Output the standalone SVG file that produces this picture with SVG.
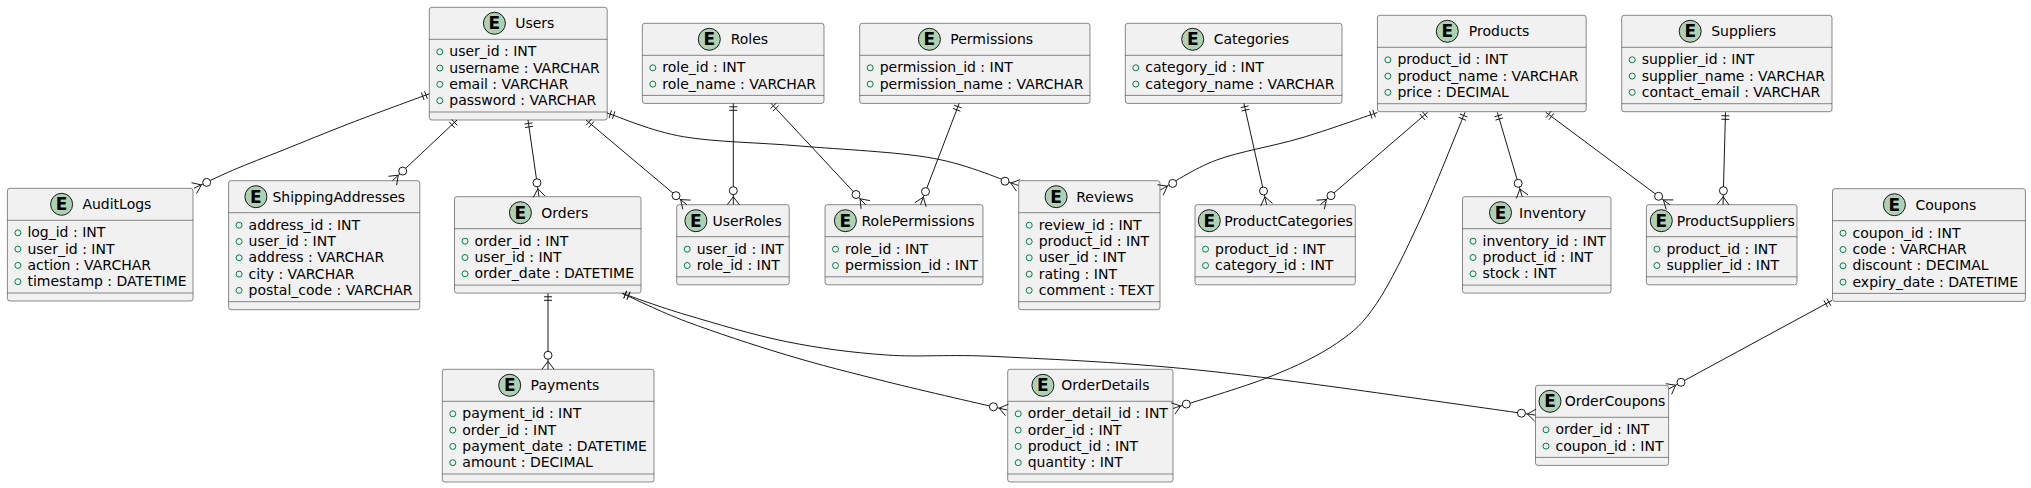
<svg xmlns="http://www.w3.org/2000/svg" width="2031" height="488" viewBox="0 0 2031 488">
<style>
.box{fill:#F1F1F1;stroke:#181818;stroke-width:0.5}
.sep{stroke:#181818;stroke-width:0.5}
.spot{fill:#ADD1B2;stroke:#181818;stroke-width:1}
.E{font-family:"DejaVu Sans",sans-serif;font-size:17px;font-weight:bold;text-anchor:middle;fill:#000}
.t{font-family:"DejaVu Sans",sans-serif;font-size:14px;fill:#000}
.a{font-family:"DejaVu Sans",sans-serif;font-size:14px;fill:#000}
.v{fill:none;stroke:#038048;stroke-width:1}
.edge{fill:none;stroke:#181818;stroke-width:1}
.mk{stroke:#181818;stroke-width:1}
.oc{fill:#FFFFFF;stroke:#181818;stroke-width:1}
</style>
<rect width="2031" height="488" fill="#FFFFFF"/>

<g id="Users">
<rect class="box" x="429.3" y="7.3" width="177.9" height="112.7" rx="2.5"/>
<line class="sep" x1="429.3" y1="39.3" x2="607.2" y2="39.3"/><line class="sep" x1="429.3" y1="112" x2="607.2" y2="112"/>
<circle class="spot" cx="494.4" cy="23.3" r="11"/><text class="E" x="494.4" y="29.3">E</text>
<text class="t" x="515.2" y="28.3">Users</text>
<circle class="v" cx="439.8" cy="51.8" r="3"/><text class="a" x="449.3" y="56.3">user_id : INT</text>
<circle class="v" cx="439.8" cy="68.1" r="3"/><text class="a" x="449.3" y="72.6">username : VARCHAR</text>
<circle class="v" cx="439.8" cy="84.4" r="3"/><text class="a" x="449.3" y="88.9">email : VARCHAR</text>
<circle class="v" cx="439.8" cy="100.7" r="3"/><text class="a" x="449.3" y="105.2">password : VARCHAR</text>
</g>

<g id="Roles">
<rect class="box" x="642.3" y="23.3" width="181.7" height="80.1" rx="2.5"/>
<line class="sep" x1="642.3" y1="55.3" x2="824" y2="55.3"/><line class="sep" x1="642.3" y1="95.4" x2="824" y2="95.4"/>
<circle class="spot" cx="709.3" cy="39.3" r="11"/><text class="E" x="709.3" y="45.3">E</text>
<text class="t" x="730.7" y="44.3">Roles</text>
<circle class="v" cx="652.8" cy="67.8" r="3"/><text class="a" x="662.3" y="72.3">role_id : INT</text>
<circle class="v" cx="652.8" cy="84.1" r="3"/><text class="a" x="662.3" y="88.6">role_name : VARCHAR</text>
</g>

<g id="Permissions">
<rect class="box" x="859.7" y="23.3" width="230.3" height="80.1" rx="2.5"/>
<line class="sep" x1="859.7" y1="55.3" x2="1090" y2="55.3"/><line class="sep" x1="859.7" y1="95.4" x2="1090" y2="95.4"/>
<circle class="spot" cx="929.4" cy="39.3" r="11"/><text class="E" x="929.4" y="45.3">E</text>
<text class="t" x="950.3" y="44.3">Permissions</text>
<circle class="v" cx="870.2" cy="67.8" r="3"/><text class="a" x="879.7" y="72.3">permission_id : INT</text>
<circle class="v" cx="870.2" cy="84.1" r="3"/><text class="a" x="879.7" y="88.6">permission_name : VARCHAR</text>
</g>

<g id="Categories">
<rect class="box" x="1125.3" y="23.3" width="216.7" height="80.1" rx="2.5"/>
<line class="sep" x1="1125.3" y1="55.3" x2="1342" y2="55.3"/><line class="sep" x1="1125.3" y1="95.4" x2="1342" y2="95.4"/>
<circle class="spot" cx="1192.7" cy="39.3" r="11"/><text class="E" x="1192.7" y="45.3">E</text>
<text class="t" x="1213.7" y="44.3">Categories</text>
<circle class="v" cx="1135.8" cy="67.8" r="3"/><text class="a" x="1145.3" y="72.3">category_id : INT</text>
<circle class="v" cx="1135.8" cy="84.1" r="3"/><text class="a" x="1145.3" y="88.6">category_name : VARCHAR</text>
</g>

<g id="Products">
<rect class="box" x="1377.4" y="15.3" width="208.8" height="96.4" rx="2.5"/>
<line class="sep" x1="1377.4" y1="47.3" x2="1586.2" y2="47.3"/><line class="sep" x1="1377.4" y1="103.7" x2="1586.2" y2="103.7"/>
<circle class="spot" cx="1447.3" cy="31.3" r="11"/><text class="E" x="1447.3" y="37.3">E</text>
<text class="t" x="1468.8" y="36.3">Products</text>
<circle class="v" cx="1387.9" cy="59.8" r="3"/><text class="a" x="1397.4" y="64.3">product_id : INT</text>
<circle class="v" cx="1387.9" cy="76.1" r="3"/><text class="a" x="1397.4" y="80.6">product_name : VARCHAR</text>
<circle class="v" cx="1387.9" cy="92.4" r="3"/><text class="a" x="1397.4" y="96.9">price : DECIMAL</text>
</g>

<g id="Suppliers">
<rect class="box" x="1621.7" y="15.3" width="210.3" height="96.4" rx="2.5"/>
<line class="sep" x1="1621.7" y1="47.3" x2="1832" y2="47.3"/><line class="sep" x1="1621.7" y1="103.7" x2="1832" y2="103.7"/>
<circle class="spot" cx="1690.2" cy="31.3" r="11"/><text class="E" x="1690.2" y="37.3">E</text>
<text class="t" x="1711.2" y="36.3">Suppliers</text>
<circle class="v" cx="1632.2" cy="59.8" r="3"/><text class="a" x="1641.7" y="64.3">supplier_id : INT</text>
<circle class="v" cx="1632.2" cy="76.1" r="3"/><text class="a" x="1641.7" y="80.6">supplier_name : VARCHAR</text>
<circle class="v" cx="1632.2" cy="92.4" r="3"/><text class="a" x="1641.7" y="96.9">contact_email : VARCHAR</text>
</g>

<g id="AuditLogs">
<rect class="box" x="7.4" y="188.3" width="185.6" height="112.7" rx="2.5"/>
<line class="sep" x1="7.4" y1="220.3" x2="193" y2="220.3"/><line class="sep" x1="7.4" y1="293" x2="193" y2="293"/>
<circle class="spot" cx="61.6" cy="204.3" r="11"/><text class="E" x="61.6" y="210.3">E</text>
<text class="t" x="82.4" y="209.3">AuditLogs</text>
<circle class="v" cx="17.9" cy="232.8" r="3"/><text class="a" x="27.4" y="237.3">log_id : INT</text>
<circle class="v" cx="17.9" cy="249.1" r="3"/><text class="a" x="27.4" y="253.6">user_id : INT</text>
<circle class="v" cx="17.9" cy="265.4" r="3"/><text class="a" x="27.4" y="269.9">action : VARCHAR</text>
<circle class="v" cx="17.9" cy="281.7" r="3"/><text class="a" x="27.4" y="286.2">timestamp : DATETIME</text>
</g>

<g id="ShippingAddresses">
<rect class="box" x="228.6" y="180.7" width="191.2" height="129" rx="2.5"/>
<line class="sep" x1="228.6" y1="212.7" x2="419.8" y2="212.7"/><line class="sep" x1="228.6" y1="301.7" x2="419.8" y2="301.7"/>
<circle class="spot" cx="255.9" cy="196.7" r="11"/><text class="E" x="255.9" y="202.7">E</text>
<text class="t" x="272.4" y="201.7">ShippingAddresses</text>
<circle class="v" cx="239.1" cy="225.2" r="3"/><text class="a" x="248.6" y="229.7">address_id : INT</text>
<circle class="v" cx="239.1" cy="241.5" r="3"/><text class="a" x="248.6" y="246">user_id : INT</text>
<circle class="v" cx="239.1" cy="257.8" r="3"/><text class="a" x="248.6" y="262.3">address : VARCHAR</text>
<circle class="v" cx="239.1" cy="274.1" r="3"/><text class="a" x="248.6" y="278.6">city : VARCHAR</text>
<circle class="v" cx="239.1" cy="290.4" r="3"/><text class="a" x="248.6" y="294.9">postal_code : VARCHAR</text>
</g>

<g id="Orders">
<rect class="box" x="454.5" y="196.7" width="186.5" height="96.4" rx="2.5"/>
<line class="sep" x1="454.5" y1="228.7" x2="641" y2="228.7"/><line class="sep" x1="454.5" y1="285.1" x2="641" y2="285.1"/>
<circle class="spot" cx="520.4" cy="212.7" r="11"/><text class="E" x="520.4" y="218.7">E</text>
<text class="t" x="541.3" y="217.7">Orders</text>
<circle class="v" cx="465" cy="241.2" r="3"/><text class="a" x="474.5" y="245.7">order_id : INT</text>
<circle class="v" cx="465" cy="257.5" r="3"/><text class="a" x="474.5" y="262">user_id : INT</text>
<circle class="v" cx="465" cy="273.8" r="3"/><text class="a" x="474.5" y="278.3">order_date : DATETIME</text>
</g>

<g id="UserRoles">
<rect class="box" x="676.7" y="204.7" width="112.5" height="80.1" rx="2.5"/>
<line class="sep" x1="676.7" y1="236.7" x2="789.2" y2="236.7"/><line class="sep" x1="676.7" y1="276.8" x2="789.2" y2="276.8"/>
<circle class="spot" cx="695.9" cy="220.7" r="11"/><text class="E" x="695.9" y="226.7">E</text>
<text class="t" x="712.4" y="225.7">UserRoles</text>
<circle class="v" cx="687.2" cy="249.2" r="3"/><text class="a" x="696.7" y="253.7">user_id : INT</text>
<circle class="v" cx="687.2" cy="265.5" r="3"/><text class="a" x="696.7" y="270">role_id : INT</text>
</g>

<g id="RolePermissions">
<rect class="box" x="825" y="204.7" width="158" height="80.1" rx="2.5"/>
<line class="sep" x1="825" y1="236.7" x2="983" y2="236.7"/><line class="sep" x1="825" y1="276.8" x2="983" y2="276.8"/>
<circle class="spot" cx="845.4" cy="220.7" r="11"/><text class="E" x="845.4" y="226.7">E</text>
<text class="t" x="861.5" y="225.7">RolePermissions</text>
<circle class="v" cx="835.5" cy="249.2" r="3"/><text class="a" x="845" y="253.7">role_id : INT</text>
<circle class="v" cx="835.5" cy="265.5" r="3"/><text class="a" x="845" y="270">permission_id : INT</text>
</g>

<g id="Reviews">
<rect class="box" x="1018.7" y="180.7" width="141.3" height="129" rx="2.5"/>
<line class="sep" x1="1018.7" y1="212.7" x2="1160" y2="212.7"/><line class="sep" x1="1018.7" y1="301.7" x2="1160" y2="301.7"/>
<circle class="spot" cx="1056.1" cy="196.7" r="11"/><text class="E" x="1056.1" y="202.7">E</text>
<text class="t" x="1076.2" y="201.7">Reviews</text>
<circle class="v" cx="1029.2" cy="225.2" r="3"/><text class="a" x="1038.7" y="229.7">review_id : INT</text>
<circle class="v" cx="1029.2" cy="241.5" r="3"/><text class="a" x="1038.7" y="246">product_id : INT</text>
<circle class="v" cx="1029.2" cy="257.8" r="3"/><text class="a" x="1038.7" y="262.3">user_id : INT</text>
<circle class="v" cx="1029.2" cy="274.1" r="3"/><text class="a" x="1038.7" y="278.6">rating : INT</text>
<circle class="v" cx="1029.2" cy="290.4" r="3"/><text class="a" x="1038.7" y="294.9">comment : TEXT</text>
</g>

<g id="ProductCategories">
<rect class="box" x="1195" y="204.7" width="160.3" height="80.1" rx="2.5"/>
<line class="sep" x1="1195" y1="236.7" x2="1355.3" y2="236.7"/><line class="sep" x1="1195" y1="276.8" x2="1355.3" y2="276.8"/>
<circle class="spot" cx="1209.3" cy="220.7" r="11"/><text class="E" x="1209.3" y="226.7">E</text>
<text class="t" x="1224.3" y="225.7">ProductCategories</text>
<circle class="v" cx="1205.5" cy="249.2" r="3"/><text class="a" x="1215" y="253.7">product_id : INT</text>
<circle class="v" cx="1205.5" cy="265.5" r="3"/><text class="a" x="1215" y="270">category_id : INT</text>
</g>

<g id="Inventory">
<rect class="box" x="1462.5" y="196.7" width="148.5" height="96.4" rx="2.5"/>
<line class="sep" x1="1462.5" y1="228.7" x2="1611" y2="228.7"/><line class="sep" x1="1462.5" y1="285.1" x2="1611" y2="285.1"/>
<circle class="spot" cx="1500.5" cy="212.7" r="11"/><text class="E" x="1500.5" y="218.7">E</text>
<text class="t" x="1519.1" y="217.7">Inventory</text>
<circle class="v" cx="1473" cy="241.2" r="3"/><text class="a" x="1482.5" y="245.7">inventory_id : INT</text>
<circle class="v" cx="1473" cy="257.5" r="3"/><text class="a" x="1482.5" y="262">product_id : INT</text>
<circle class="v" cx="1473" cy="273.8" r="3"/><text class="a" x="1482.5" y="278.3">stock : INT</text>
</g>

<g id="ProductSuppliers">
<rect class="box" x="1646.4" y="204.7" width="150.6" height="80.1" rx="2.5"/>
<line class="sep" x1="1646.4" y1="236.7" x2="1797" y2="236.7"/><line class="sep" x1="1646.4" y1="276.8" x2="1797" y2="276.8"/>
<circle class="spot" cx="1661.3" cy="220.7" r="11"/><text class="E" x="1661.3" y="226.7">E</text>
<text class="t" x="1676.7" y="225.7">ProductSuppliers</text>
<circle class="v" cx="1656.9" cy="249.2" r="3"/><text class="a" x="1666.4" y="253.7">product_id : INT</text>
<circle class="v" cx="1656.9" cy="265.5" r="3"/><text class="a" x="1666.4" y="270">supplier_id : INT</text>
</g>

<g id="Coupons">
<rect class="box" x="1832.5" y="188.7" width="192.9" height="112.7" rx="2.5"/>
<line class="sep" x1="1832.5" y1="220.7" x2="2025.4" y2="220.7"/><line class="sep" x1="1832.5" y1="293.4" x2="2025.4" y2="293.4"/>
<circle class="spot" cx="1894.4" cy="204.7" r="11"/><text class="E" x="1894.4" y="210.7">E</text>
<text class="t" x="1915.4" y="209.7">Coupons</text>
<circle class="v" cx="1843" cy="233.2" r="3"/><text class="a" x="1852.5" y="237.7">coupon_id : INT</text>
<circle class="v" cx="1843" cy="249.5" r="3"/><text class="a" x="1852.5" y="254">code : VARCHAR</text>
<circle class="v" cx="1843" cy="265.8" r="3"/><text class="a" x="1852.5" y="270.3">discount : DECIMAL</text>
<circle class="v" cx="1843" cy="282.1" r="3"/><text class="a" x="1852.5" y="286.6">expiry_date : DATETIME</text>
</g>

<g id="Payments">
<rect class="box" x="442.3" y="369.3" width="211.7" height="112.7" rx="2.5"/>
<line class="sep" x1="442.3" y1="401.3" x2="654" y2="401.3"/><line class="sep" x1="442.3" y1="474" x2="654" y2="474"/>
<circle class="spot" cx="509.7" cy="385.3" r="11"/><text class="E" x="509.7" y="391.3">E</text>
<text class="t" x="530.6" y="390.3">Payments</text>
<circle class="v" cx="452.8" cy="413.8" r="3"/><text class="a" x="462.3" y="418.3">payment_id : INT</text>
<circle class="v" cx="452.8" cy="430.1" r="3"/><text class="a" x="462.3" y="434.6">order_id : INT</text>
<circle class="v" cx="452.8" cy="446.4" r="3"/><text class="a" x="462.3" y="450.9">payment_date : DATETIME</text>
<circle class="v" cx="452.8" cy="462.7" r="3"/><text class="a" x="462.3" y="467.2">amount : DECIMAL</text>
</g>

<g id="OrderDetails">
<rect class="box" x="1007.7" y="369.3" width="165.3" height="112.7" rx="2.5"/>
<line class="sep" x1="1007.7" y1="401.3" x2="1173" y2="401.3"/><line class="sep" x1="1007.7" y1="474" x2="1173" y2="474"/>
<circle class="spot" cx="1042.9" cy="385.3" r="11"/><text class="E" x="1042.9" y="391.3">E</text>
<text class="t" x="1061.2" y="390.3">OrderDetails</text>
<circle class="v" cx="1018.2" cy="413.8" r="3"/><text class="a" x="1027.7" y="418.3">order_detail_id : INT</text>
<circle class="v" cx="1018.2" cy="430.1" r="3"/><text class="a" x="1027.7" y="434.6">order_id : INT</text>
<circle class="v" cx="1018.2" cy="446.4" r="3"/><text class="a" x="1027.7" y="450.9">product_id : INT</text>
<circle class="v" cx="1018.2" cy="462.7" r="3"/><text class="a" x="1027.7" y="467.2">quantity : INT</text>
</g>

<g id="OrderCoupons">
<rect class="box" x="1535.5" y="385.3" width="133.1" height="80.1" rx="2.5"/>
<line class="sep" x1="1535.5" y1="417.3" x2="1668.6" y2="417.3"/><line class="sep" x1="1535.5" y1="457.4" x2="1668.6" y2="457.4"/>
<circle class="spot" cx="1550" cy="401.3" r="11"/><text class="E" x="1550" y="407.3">E</text>
<text class="t" x="1564.7" y="406.3">OrderCoupons</text>
<circle class="v" cx="1546" cy="429.8" r="3"/><text class="a" x="1555.5" y="434.3">order_id : INT</text>
<circle class="v" cx="1546" cy="446.1" r="3"/><text class="a" x="1555.5" y="450.6">coupon_id : INT</text>
</g>

<g id="connectors">
<!-- Users - AuditLogs -->
<path class="edge" d="M429.3,93.8 C416.1,98.7 374.3,113.9 350,123.3 C325.7,132.7 302.8,142.2 283.3,150 C263.8,157.8 248.2,163.6 233.3,170 C218.4,176.4 200.6,185.2 194,188.2"/>
<line class="mk" x1="424.6" y1="91.3" x2="427.4" y2="98.8"/><line class="mk" x1="421.3" y1="92.5" x2="424.1" y2="100"/>
<line class="mk" x1="201.3" y1="184.9" x2="191.5" y2="182.7"/><line class="mk" x1="201.3" y1="184.9" x2="196.5" y2="193.7"/>
<circle class="oc" cx="206.7" cy="182.4" r="4"/>
<!-- Users - ShippingAddresses -->
<path class="edge" d="M457,120 L392.5,180.7"/>
<line class="mk" x1="451.7" y1="119.5" x2="457.2" y2="125.3"/><line class="mk" x1="449.2" y1="121.9" x2="454.6" y2="127.7"/>
<line class="mk" x1="398.3" y1="175.2" x2="388.4" y2="176.3"/><line class="mk" x1="398.3" y1="175.2" x2="396.6" y2="185.1"/>
<circle class="oc" cx="402.7" cy="171.1" r="4"/>
<!-- Users - Orders -->
<path class="edge" d="M528,120 L539,196.7"/>
<line class="mk" x1="524.5" y1="124.1" x2="532.5" y2="122.9"/><line class="mk" x1="525" y1="127.5" x2="533" y2="126.3"/>
<line class="mk" x1="537.9" y1="188.8" x2="533.1" y2="197.5"/><line class="mk" x1="537.9" y1="188.8" x2="544.9" y2="195.9"/>
<circle class="oc" cx="537" cy="182.8" r="4"/>
<!-- Users - UserRoles -->
<path class="edge" d="M586,120 L686.7,204.7"/>
<line class="mk" x1="586.1" y1="125.3" x2="591.3" y2="119.2"/><line class="mk" x1="588.8" y1="127.6" x2="594" y2="121.4"/>
<line class="mk" x1="680.6" y1="199.6" x2="682.8" y2="209.3"/><line class="mk" x1="680.6" y1="199.6" x2="690.6" y2="200.1"/>
<circle class="oc" cx="676" cy="195.7" r="4"/>
<!-- Users - Reviews -->
<path class="edge" d="M607,113 C619.7,117 651.1,131.2 683.3,136.7 C715.5,142.2 758.3,142.4 800,146 C841.7,149.6 896.9,151.7 933.3,158.3 C969.7,164.9 1004.1,180.9 1018.3,185.4"/>
<line class="mk" x1="609.1" y1="117.9" x2="611.5" y2="110.3"/><line class="mk" x1="612.5" y1="118.9" x2="614.9" y2="111.3"/>
<line class="mk" x1="1010.7" y1="183" x2="1020.1" y2="179.7"/><line class="mk" x1="1010.7" y1="183" x2="1016.5" y2="191.1"/>
<circle class="oc" cx="1005" cy="181.2" r="4"/>
<!-- Roles - UserRoles -->
<path class="edge" d="M733.3,103.3 L733.3,204.7"/>
<line class="mk" x1="729.3" y1="106.8" x2="737.3" y2="106.8"/><line class="mk" x1="729.3" y1="110.3" x2="737.3" y2="110.3"/>
<line class="mk" x1="733.3" y1="196.7" x2="727.3" y2="204.7"/><line class="mk" x1="733.3" y1="196.7" x2="739.3" y2="204.7"/>
<circle class="oc" cx="733.3" cy="190.7" r="4"/>
<!-- Roles - RolePermissions -->
<path class="edge" d="M771,103.3 L865.5,204.7"/>
<line class="mk" x1="770.5" y1="108.6" x2="776.3" y2="103.2"/><line class="mk" x1="772.9" y1="111.1" x2="778.7" y2="105.7"/>
<line class="mk" x1="860" y1="198.8" x2="861.1" y2="208.8"/><line class="mk" x1="860" y1="198.8" x2="869.9" y2="200.6"/>
<circle class="oc" cx="856" cy="194.5" r="4"/>
<!-- Permissions - RolePermissions -->
<path class="edge" d="M959.2,103.3 L920.5,204.7"/>
<line class="mk" x1="954.2" y1="105.2" x2="961.7" y2="108"/><line class="mk" x1="953" y1="108.4" x2="960.4" y2="111.2"/>
<line class="mk" x1="923.4" y1="197.2" x2="914.9" y2="202.6"/><line class="mk" x1="923.4" y1="197.2" x2="926.1" y2="206.8"/>
<circle class="oc" cx="925.5" cy="191.6" r="4"/>
<!-- Categories - ProductCategories -->
<path class="edge" d="M1243.9,103.3 L1266.6,204.7"/>
<line class="mk" x1="1240.8" y1="107.6" x2="1248.6" y2="105.8"/><line class="mk" x1="1241.5" y1="111" x2="1249.3" y2="109.2"/>
<line class="mk" x1="1264.9" y1="196.9" x2="1260.7" y2="206"/><line class="mk" x1="1264.9" y1="196.9" x2="1272.5" y2="203.4"/>
<circle class="oc" cx="1263.5" cy="191" r="4"/>
<!-- Products - Reviews -->
<path class="edge" d="M1377.4,112.5 C1364.5,116.8 1326.8,130.4 1300,138.3 C1273.2,146.2 1240,151.4 1216.7,160 C1193.4,168.6 1169.7,185 1160.3,190"/>
<line class="mk" x1="1372.8" y1="109.8" x2="1375.4" y2="117.4"/><line class="mk" x1="1369.5" y1="110.9" x2="1372.1" y2="118.5"/>
<line class="mk" x1="1167.4" y1="186.2" x2="1157.5" y2="184.7"/><line class="mk" x1="1167.4" y1="186.2" x2="1163.1" y2="195.3"/>
<circle class="oc" cx="1172.7" cy="183.4" r="4"/>
<!-- Products - ProductCategories -->
<path class="edge" d="M1427.6,112.3 L1320.4,204.7"/>
<line class="mk" x1="1422.3" y1="111.6" x2="1427.5" y2="117.6"/><line class="mk" x1="1419.7" y1="113.9" x2="1424.9" y2="119.9"/>
<line class="mk" x1="1326.5" y1="199.5" x2="1316.5" y2="200.2"/><line class="mk" x1="1326.5" y1="199.5" x2="1324.3" y2="209.2"/>
<circle class="oc" cx="1331" cy="195.6" r="4"/>
<!-- Products - OrderDetails -->
<path class="edge" d="M1465,112.3 C1457.5,130.3 1434.7,188.2 1420,220 C1405.3,251.8 1390.6,282.7 1376.7,303.3 C1362.8,323.9 1354.5,331.1 1336.7,343.3 C1318.9,355.5 1297.3,365.8 1270,376.7 C1242.7,387.6 1189.2,403.2 1173,408.5"/>
<line class="mk" x1="1460" y1="114" x2="1467.4" y2="117"/><line class="mk" x1="1458.6" y1="117.3" x2="1466" y2="120.3"/>
<line class="mk" x1="1180.6" y1="406" x2="1171.1" y2="402.8"/><line class="mk" x1="1180.6" y1="406" x2="1174.9" y2="414.2"/>
<circle class="oc" cx="1186.3" cy="404.1" r="4"/>
<!-- Products - Inventory -->
<path class="edge" d="M1497.3,112.3 L1522.2,196.7"/>
<line class="mk" x1="1494.5" y1="116.8" x2="1502.1" y2="114.6"/><line class="mk" x1="1495.5" y1="120.1" x2="1503.1" y2="117.9"/>
<line class="mk" x1="1519.9" y1="189" x2="1516.4" y2="198.4"/><line class="mk" x1="1519.9" y1="189" x2="1528" y2="195"/>
<circle class="oc" cx="1518.2" cy="183.3" r="4"/>
<!-- Products - ProductSuppliers -->
<path class="edge" d="M1545.8,112.3 L1669.8,204.7"/>
<line class="mk" x1="1546.2" y1="117.6" x2="1551" y2="111.2"/><line class="mk" x1="1549" y1="119.7" x2="1553.8" y2="113.3"/>
<line class="mk" x1="1663.4" y1="199.9" x2="1666.2" y2="209.5"/><line class="mk" x1="1663.4" y1="199.9" x2="1673.4" y2="199.9"/>
<circle class="oc" cx="1658.6" cy="196.3" r="4"/>
<!-- Suppliers - ProductSuppliers -->
<path class="edge" d="M1725.5,112.3 L1723,204.7"/>
<line class="mk" x1="1721.4" y1="115.7" x2="1729.4" y2="115.9"/><line class="mk" x1="1721.3" y1="119.2" x2="1729.3" y2="119.4"/>
<line class="mk" x1="1723.2" y1="196.7" x2="1717" y2="204.5"/><line class="mk" x1="1723.2" y1="196.7" x2="1729" y2="204.9"/>
<circle class="oc" cx="1723.4" cy="190.7" r="4"/>
<!-- Orders - Payments -->
<path class="edge" d="M548,293.3 L548,369.3"/>
<line class="mk" x1="544" y1="296.8" x2="552" y2="296.8"/><line class="mk" x1="544" y1="300.3" x2="552" y2="300.3"/>
<line class="mk" x1="548" y1="361.3" x2="542" y2="369.3"/><line class="mk" x1="548" y1="361.3" x2="554" y2="369.3"/>
<circle class="oc" cx="548" cy="355.3" r="4"/>
<!-- Orders - OrderDetails -->
<path class="edge" d="M622,293.3 C632.8,298 659.2,311.4 686.7,321.7 C714.2,332 753.4,345 786.7,355 C820,365 850,372.5 886.7,381.7 C923.4,390.9 987,405.3 1007,410"/>
<line class="mk" x1="623.6" y1="298.4" x2="626.8" y2="291"/><line class="mk" x1="626.8" y1="299.8" x2="630" y2="292.4"/>
<line class="mk" x1="999.2" y1="408.2" x2="1005.6" y2="415.8"/><line class="mk" x1="999.2" y1="408.2" x2="1008.4" y2="404.2"/>
<circle class="oc" cx="993.4" cy="406.8" r="4"/>
<!-- Orders - OrderCoupons -->
<path class="edge" d="M622,293.3 C632.8,296.9 659.2,306.9 686.7,315 C714.2,323.1 753.4,335 786.7,341.7 C820,348.4 851.1,352.5 886.7,355 C922.3,357.5 945.4,353.9 1000,356.7 C1054.6,359.5 1124.8,362 1214,371.7 C1303.2,381.4 1481.7,407.9 1535.3,415.1"/>
<line class="mk" x1="624" y1="298.2" x2="626.6" y2="290.6"/><line class="mk" x1="627.3" y1="299.3" x2="629.9" y2="291.7"/>
<line class="mk" x1="1527.4" y1="414" x2="1534.5" y2="421"/><line class="mk" x1="1527.4" y1="414" x2="1536.1" y2="409.2"/>
<circle class="oc" cx="1521.4" cy="413.2" r="4"/>
<!-- Coupons - OrderCoupons -->
<path class="edge" d="M1832,300.5 L1668.7,389"/>
<line class="mk" x1="1827" y1="298.7" x2="1830.8" y2="305.7"/><line class="mk" x1="1823.9" y1="300.3" x2="1827.7" y2="307.3"/>
<line class="mk" x1="1675.7" y1="385.2" x2="1665.8" y2="383.7"/><line class="mk" x1="1675.7" y1="385.2" x2="1671.6" y2="394.3"/>
<circle class="oc" cx="1681" cy="382.3" r="4"/>
</g>
</svg>
